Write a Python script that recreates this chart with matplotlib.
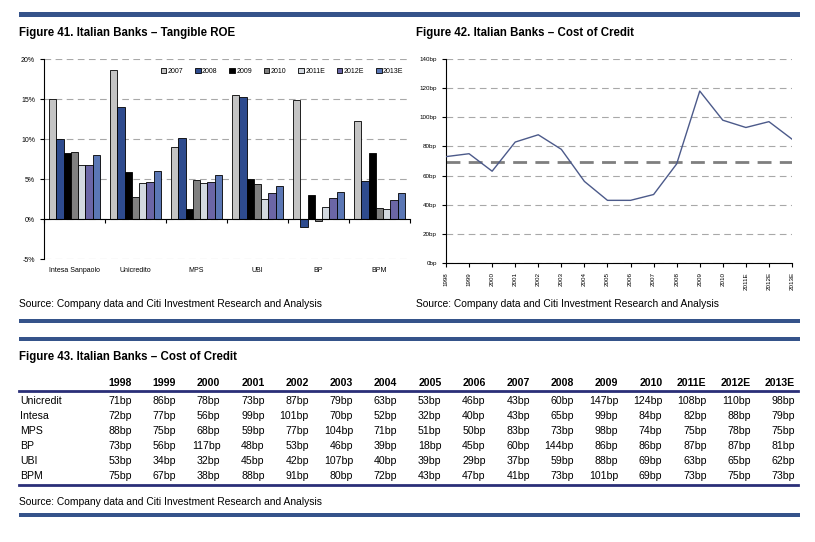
import numpy as np
import matplotlib
matplotlib.use("Agg")
import matplotlib.pyplot as plt
from matplotlib.patches import Rectangle
from matplotlib.lines import Line2D
import matplotlib.transforms as mtransforms

plt.rcParams['font.family'] = ['Liberation Sans', 'DejaVu Sans']

# ---- data: Figure 41, tangible ROE (%)
banks = ["Intesa Sanpaolo", "Unicredito", "MPS", "UBI", "BP", "BPM"]
roe_years = ["2007", "2008", "2009", "2010", "2011E", "2012E", "2013E"]
roe_2007 = [15.0, 18.6, 9.0, 15.5, 14.9, 12.2]
roe_2008 = [10.0, 14.0, 10.1, 15.2, -1.0, 4.8]
roe_2009 = [8.2, 5.9, 1.2, 5.0, 3.0, 8.2]
roe_2010 = [8.4, 2.8, 4.9, 4.4, -0.2, 1.4]
roe_2011 = [6.8, 4.5, 4.5, 2.5, 1.5, 1.2]
roe_2012 = [6.8, 4.6, 4.6, 3.2, 2.6, 2.4]
roe_2013 = [8.0, 6.0, 5.5, 4.1, 3.4, 3.2]

# ---- data: Figure 42, cost of credit (bp)
coc_years = ["1998", "1999", "2000", "2001", "2002", "2003", "2004", "2005",
             "2006", "2007", "2008", "2009", "2010", "2011E", "2012E", "2013E"]
coc_line = [73, 75, 63, 83, 88, 78, 56, 43, 43, 47, 68, 118, 98, 93, 97, 85]
coc_avg = 69.5

# ---- data: Figure 43 table (bp)
tbl_banks = ["Unicredit", "Intesa", "MPS", "BP", "UBI", "BPM"]
unicredit = [71, 86, 78, 73, 87, 79, 63, 53, 46, 43, 60, 147, 124, 108, 110, 98]
intesa = [72, 77, 56, 99, 101, 70, 52, 32, 40, 43, 65, 99, 84, 82, 88, 79]
mps = [88, 75, 68, 59, 77, 104, 71, 51, 50, 83, 73, 98, 74, 75, 78, 75]
bp = [73, 56, 117, 48, 53, 46, 39, 18, 45, 60, 144, 86, 86, 87, 87, 81]
ubi = [53, 34, 32, 45, 42, 107, 40, 39, 29, 37, 59, 88, 69, 63, 65, 62]
bpm = [75, 67, 38, 88, 91, 80, 72, 43, 47, 41, 73, 101, 69, 73, 75, 73]

source = "Source: Company data and Citi Investment Research and Analysis"

W, H = 815, 542
fig = plt.figure(figsize=(W / 100, H / 100), dpi=100)

BLUE = "#35538a"
NAVY = "#2a2f78"


def fx(x):
    return x / W


def fy(y):
    return 1 - y / H


def bar(x0, x1, y0, y1, color=BLUE):
    fig.add_artist(Rectangle((fx(x0), fy(y1)), fx(x1 - x0), (y1 - y0) / H,
                             facecolor=color, edgecolor="none", transform=fig.transFigure))


def axes_px(l, t, r, b):
    return fig.add_axes([fx(l), fy(b), fx(r - l), (b - t) / H])


# blue separators
bar(19, 800, 12, 17)
bar(19, 800, 319, 323)
bar(19, 800, 337, 341)
bar(19, 800, 513, 517)

# titles and sources
fig.text(fx(19), fy(33), "Figure 41. Italian Banks \u2013 Tangible ROE", fontsize=8.3,
         fontweight="bold", va="center", ha="left")
fig.text(fx(416), fy(33), "Figure 42. Italian Banks \u2013 Cost of Credit", fontsize=8.3,
         fontweight="bold", va="center", ha="left")
fig.text(fx(19), fy(304), source, fontsize=7.4, va="center", ha="left")
fig.text(fx(416), fy(304), source, fontsize=7.4, va="center", ha="left")

# ---------------- Figure 41
ax1 = axes_px(44, 59, 410, 259)
series = [roe_2007, roe_2008, roe_2009, roe_2010, roe_2011, roe_2012, roe_2013]
colors = ["#c4c4c4", "#2e4b8e", "#000000", "#808080", "#d3d9e0", "#6b66a6", "#5b77b5"]
x = np.arange(len(banks))
bw = 0.12
for k, (vals, col, lab) in enumerate(zip(series, colors, roe_years)):
    ax1.bar(x + (k - 3) * bw, vals, bw, color=col, edgecolor="black", linewidth=0.6,
            label=lab, zorder=3)
ax1.set_xlim(-0.5, 5.5)
ax1.set_ylim(-5, 20)
ax1.set_yticks([-5, 0, 5, 10, 15, 20])
ax1.set_yticklabels(["-5%", "0%", "5%", "10%", "15%", "20%"])
ax1.yaxis.grid(True, color="#a8a8a8", linestyle=(0, (6, 4)), linewidth=0.8)
ax1.set_axisbelow(True)
for s in ["top", "right"]:
    ax1.spines[s].set_visible(False)
ax1.spines["bottom"].set_position(("data", 0))
ax1.spines["bottom"].set_zorder(4)
ax1.spines["left"].set_linewidth(0.8)
ax1.set_xticks(np.arange(-0.5, 6.0, 1.0))
ax1.set_xticklabels([])
ax1.tick_params(axis="x", length=3, width=0.8, direction="out")
ax1.tick_params(axis="y", length=3, width=0.8, labelsize=5)
trans = mtransforms.blended_transform_factory(ax1.transData, ax1.transAxes)
for i, name in enumerate(banks):
    ax1.text(i, -0.055, name, transform=trans, ha="center", va="center", fontsize=5)
ax1.legend(loc="upper right", bbox_to_anchor=(0.99, 0.97), ncol=7, frameon=False,
           fontsize=5, handlelength=0.8, handleheight=0.8, handletextpad=0.2,
           columnspacing=1.7, borderaxespad=0)

# ---------------- Figure 42
ax2 = axes_px(446, 59, 792, 263)
xi = np.arange(len(coc_years))
ax2.plot(xi, coc_line, color="#4c5a8a", linewidth=1.0, zorder=3)
ax2.axhline(coc_avg, color="#7f7f7f", linewidth=2.0, linestyle=(0, (5, 3)), zorder=2)
ax2.set_xlim(0, len(coc_years) - 1)
ax2.set_ylim(0, 140)
ax2.set_yticks(np.arange(0, 141, 20))
ax2.set_yticklabels([f"{v}bp" for v in range(0, 141, 20)])
ax2.set_xticks(xi)
ax2.set_xticklabels(coc_years, rotation=90)
ax2.yaxis.grid(True, color="#a8a8a8", linestyle=(0, (6, 4)), linewidth=0.8)
ax2.set_axisbelow(True)
for s in ["top", "right"]:
    ax2.spines[s].set_visible(False)
ax2.spines["left"].set_linewidth(0.8)
ax2.spines["bottom"].set_linewidth(0.8)
ax2.tick_params(axis="both", length=3, width=0.8, labelsize=4.5)

# ---------------- Figure 43
fig.text(fx(19), fy(357), "Figure 43. Italian Banks \u2013 Cost of Credit", fontsize=8.3,
         fontweight="bold", va="center", ha="left")
col_right = np.linspace(132, 795, len(coc_years))
for c, yr in zip(col_right, coc_years):
    fig.text(fx(c), fy(383), yr, fontsize=7.6, fontweight="bold", ha="right", va="center")
fig.add_artist(Line2D([fx(19), fx(798)], [fy(391), fy(391)], color=NAVY, linewidth=2,
                      transform=fig.transFigure))
rows = [unicredit, intesa, mps, bp, ubi, bpm]
row_y = [401, 416, 431, 446, 461, 476]
for name, vals, ry in zip(tbl_banks, rows, row_y):
    fig.text(fx(20), fy(ry), name, fontsize=7.6, ha="left", va="center")
    for c, v in zip(col_right, vals):
        fig.text(fx(c), fy(ry), f"{v}bp", fontsize=7.6, ha="right", va="center")
fig.add_artist(Line2D([fx(19), fx(798)], [fy(485), fy(485)], color=NAVY, linewidth=2,
                      transform=fig.transFigure))
fig.text(fx(19), fy(502), source, fontsize=7.4, va="center", ha="left")

fig.savefig("out.png", dpi=100)
